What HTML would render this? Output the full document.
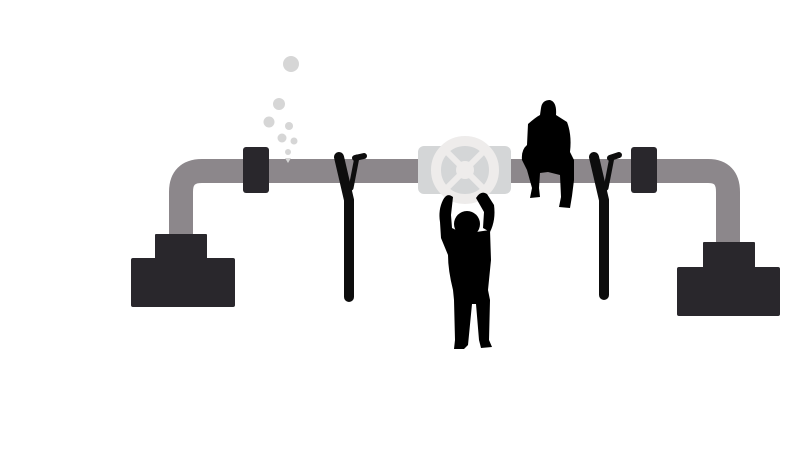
<!DOCTYPE html>
<html><head><meta charset="utf-8"><style>html,body{margin:0;padding:0;background:#fff;width:800px;height:450px;overflow:hidden}</style></head>
<body>
<svg width="800" height="450" viewBox="0 0 800 450" xmlns="http://www.w3.org/2000/svg">
<rect width="800" height="450" fill="#fff"/>
<path d="M181,234 V192 Q181,171 202,171 H708 Q728,171 728,192 V243" fill="none" stroke="#8c878b" stroke-width="24"/>
<rect x="155" y="234" width="52" height="26" fill="#29272c" rx="1"/>
<rect x="131" y="258" width="104" height="49" fill="#29272c" rx="2"/>
<rect x="703" y="242" width="52" height="27" fill="#29272c" rx="1"/>
<rect x="677" y="267" width="103" height="49" fill="#29272c" rx="2"/>
<rect x="243" y="147" width="26" height="46" rx="3" fill="#29272c"/>
<rect x="631" y="147" width="26" height="46" rx="3" fill="#29272c"/>
<g fill="#d6d6d6">
<circle cx="291" cy="64" r="8"/><circle cx="279" cy="104" r="6"/><circle cx="269" cy="122" r="5.5"/>
<circle cx="289" cy="126" r="4"/><circle cx="282" cy="138" r="4.5"/><circle cx="294" cy="141" r="3.5"/>
<circle cx="288" cy="152" r="3"/><path d="M285,158 L291,158 L288,163Z"/>
</g>
<g stroke="#0d0d0d" stroke-linecap="round" fill="none">
<path d="M339,157 L349,200 L349,297" stroke-width="10"/>
<path d="M357,157 L351,188" stroke-width="5"/>
<line x1="355" y1="158" x2="364" y2="156" stroke-width="6"/>
<path d="M594,157 L604,200 L604,295" stroke-width="10"/>
<path d="M612,157 L606,188" stroke-width="5"/>
<line x1="610" y1="158" x2="619" y2="155" stroke-width="6"/>
</g>
<rect x="418" y="146" width="93" height="48" rx="6" fill="#d4d6d7"/>
<circle cx="465" cy="170" r="29" fill="none" stroke="#eeeceb" stroke-width="10"/>
<circle cx="465" cy="170" r="9" fill="#eeeceb"/>
<g stroke="#eeeceb" stroke-width="6"><line x1="447" y1="152" x2="483" y2="188"/><line x1="483" y1="152" x2="447" y2="188"/></g>
<g fill="#000">
<path d="M443,200 Q447,192 453,197 L451,215 L452,228 L446,232 L440,222 Q438,210 443,200 Z"/>
<path d="M476,198 Q481,190 487,194 L494,205 Q496,220 490,232 L483,228 L484,212 Z"/>
<circle cx="467" cy="224" r="13"/>
<path d="M440,222 L452,228 L460,232 L476,232 L490,230 L491,260 L488,290 L490,300 L489,340 L492,347 L481,348 L479,340 L476,304 L472,304 L468,345 L464,349 L454,349 L455,340 L454,300 L453,290 Q448,270 448,255 L441,238 Z"/>
</g>
<path fill="#000" d="M541,108 Q542,100 550,100 Q557,102 556,115 L567,122 Q572,135 570,152 L574,160 L574,180 L572,196 L570,208 L559,207 L561,197 L560,175 L548,172 L540,173 L539,188 L540,197 L530,198 L532,188 L527,170 L522,160 Q521,150 527,145 L528,124 Q536,117 540,115 Z"/>
</svg>
</body></html>
